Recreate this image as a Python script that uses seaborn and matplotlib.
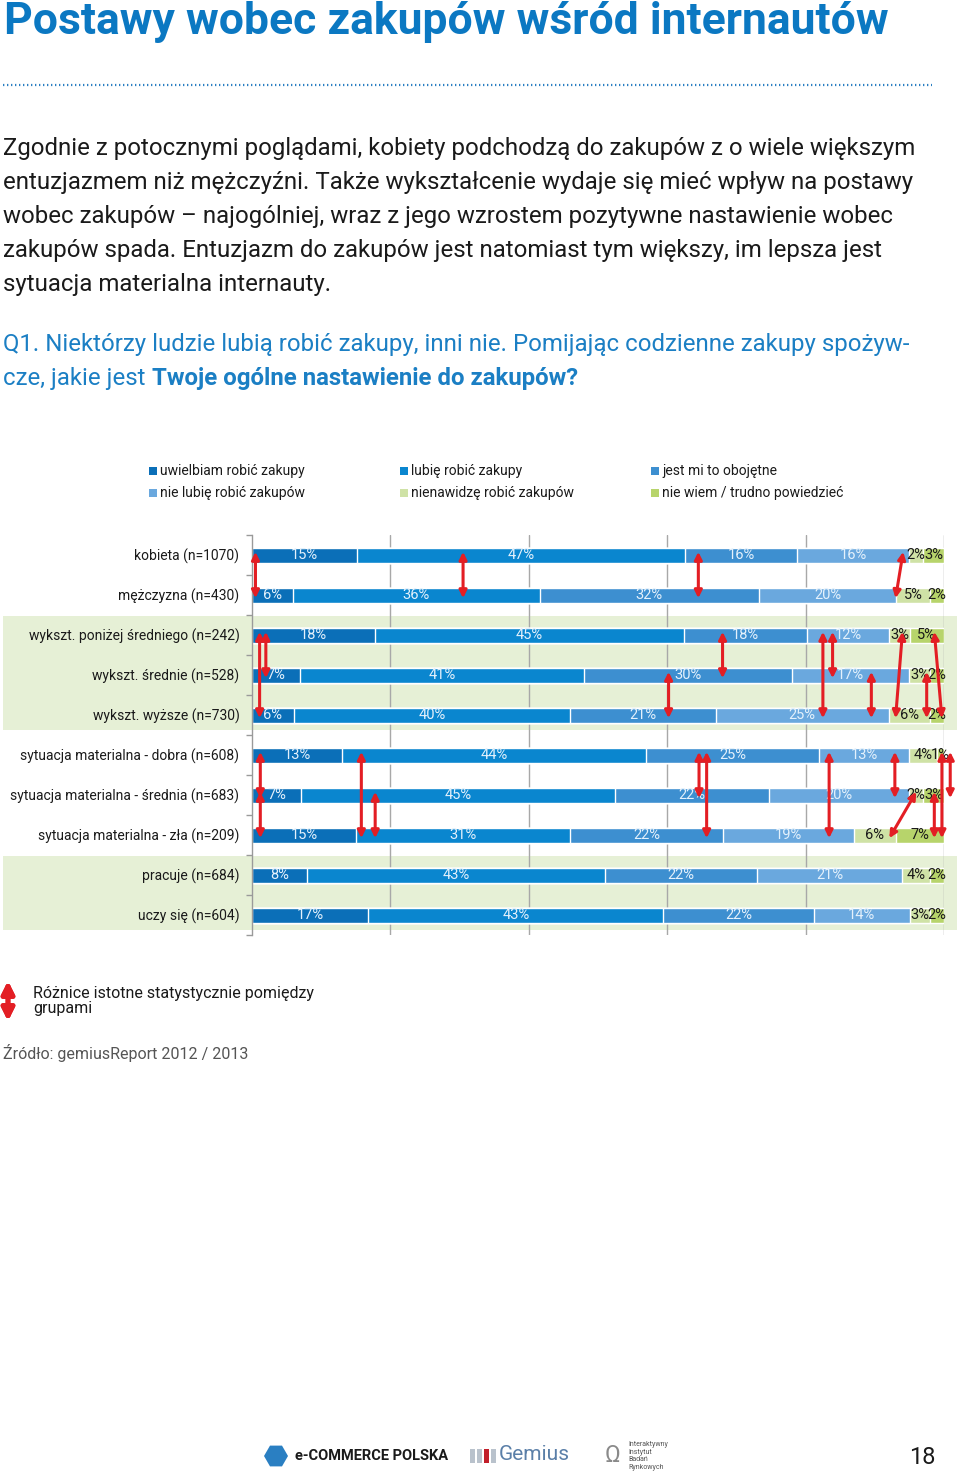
import numpy as np
import pandas as pd
import seaborn as sns
from matplotlib import pyplot as plt
from matplotlib.patches import Rectangle, RegularPolygon
from matplotlib.lines import Line2D
from matplotlib.transforms import blended_transform_factory

groups = [
    "kobieta (n=1070)",
    "mężczyzna (n=430)",
    "wykszt. poniżej średniego (n=242)",
    "wykszt. średnie (n=528)",
    "wykszt. wyższe (n=730)",
    "sytuacja materialna - dobra (n=608)",
    "sytuacja materialna - średnia (n=683)",
    "sytuacja materialna - zła (n=209)",
    "pracuje (n=684)",
    "uczy się (n=604)",
]
categories = [
    "uwielbiam robić zakupy",
    "lubię robić zakupy",
    "jest mi to obojętne",
    "nie lubię robić zakupów",
    "nienawidzę robić zakupów",
    "nie wiem / trudno powiedzieć",
]
uwielbiam = [15, 6, 18, 7, 6, 13, 7, 15, 8, 17]
lubie = [47, 36, 45, 41, 40, 44, 45, 31, 43, 43]
obojetne = [16, 32, 18, 30, 21, 25, 22, 22, 22, 22]
nie_lubie = [16, 20, 12, 17, 25, 13, 20, 19, 21, 14]
nienawidze = [2, 5, 3, 3, 6, 4, 2, 6, 4, 3]
nie_wiem = [3, 2, 5, 2, 2, 1, 3, 7, 2, 2]

# statistically significant differences: (row from, row to, position from, position to) in %
sig_arrows = [
    (0, 1, 0.5, 0.5), (0, 1, 30.5, 30.5), (0, 1, 64.5, 64.5), (0, 1, 94.1, 93.0),
    (2, 4, 1.1, 1.1), (2, 3, 2.0, 2.0), (2, 3, 68.0, 68.0), (2, 4, 82.5, 82.5),
    (2, 3, 83.9, 83.9), (2, 4, 94.0, 93.0), (2, 4, 98.6, 99.7), (3, 4, 60.2, 60.2),
    (3, 4, 89.5, 89.5), (3, 4, 97.5, 97.5), (5, 6, 1.2, 1.2), (6, 7, 1.2, 1.2),
    (5, 7, 15.8, 15.8), (6, 7, 17.8, 17.8), (5, 6, 64.6, 64.6), (5, 7, 65.7, 65.7),
    (5, 7, 83.4, 83.4), (5, 6, 92.9, 92.9), (5, 7, 99.7, 99.7), (5, 6, 100.9, 100.9),
    (6, 7, 96.0, 92.1), (6, 7, 98.6, 98.6),
]
shaded_rows = [(2, 4), (8, 9)]

colors = ["#0b6fb8", "#0a86cf", "#3d8fd0", "#6aa8de", "#cfe2a6", "#b7d46b"]
label_colors = ["#e4f1fc"] * 4 + ["#1a1a1a"] * 2
BLUE = "#0b78c2"
RED = "#e31e24"

W, H = 960, 1476


def fx(x):
    return x / W


def fy(y):
    return 1 - y / H


sns.set_theme(style="white")
plt.rcParams["font.family"] = ["Roboto", "DejaVu Sans"]

df = pd.DataFrame(
    {
        categories[0]: uwielbiam,
        categories[1]: lubie,
        categories[2]: obojetne,
        categories[3]: nie_lubie,
        categories[4]: nienawidze,
        categories[5]: nie_wiem,
    },
    index=groups,
)
shares = df.div(df.sum(axis=1), axis=0) * 100
cum = shares.cumsum(axis=1)

fig = plt.figure(figsize=(9.6, 14.76), dpi=100)
ax = fig.add_axes([fx(252), fy(935), fx(944 - 252), 400 / H])
ax.patch.set_alpha(0)

for i in reversed(range(len(categories))):
    sns.barplot(
        x=cum.iloc[:, i].values,
        y=groups,
        order=groups,
        orient="h",
        color=colors[i],
        saturation=1,
        width=0.375,
        edgecolor="white",
        linewidth=1,
        errorbar=None,
        ax=ax,
    )

ax.set_xlim(0, 100)
ax.set_ylim(9.5, -0.5)
ax.set_xlabel("")
ax.set_ylabel("")
ax.set_xticks([20, 40, 60, 80, 100])
ax.set_xticklabels([])
ax.grid(axis="x", color="#a8a8a8", linewidth=1)
ax.grid(axis="y", visible=False)
ax.set_axisbelow(True)
for side in ["top", "right", "bottom"]:
    ax.spines[side].set_visible(False)
ax.spines["left"].set_color("#9a9a9a")
ax.spines["left"].set_linewidth(1)
ax.tick_params(axis="x", length=0)
ax.tick_params(axis="y", which="major", length=0, pad=9, labelsize=10, labelcolor="#1a1a1a")
ax.set_yticks(np.arange(-0.5, len(groups), 1.0), minor=True)
ax.tick_params(axis="y", which="minor", length=4, color="#9a9a9a", width=1, direction="out", left=True)

# shaded bands behind group blocks
band_tr = blended_transform_factory(fig.transFigure, ax.transData)
for r0, r1 in shaded_rows:
    ax.add_patch(
        Rectangle((fx(3), r0 - 0.48), fx(957 - 3), r1 - r0 + 0.86,
                  transform=band_tr, facecolor="#e6f0d6", edgecolor="none",
                  zorder=0.1, clip_on=False)
    )

# segment labels
for r, g in enumerate(groups):
    left = 0
    for i, cat in enumerate(categories):
        w = shares.loc[g, cat]
        ax.text(left + w / 2, r, f"{df.loc[g, cat]}%", ha="center", va="center",
                fontsize=10.5, color=label_colors[i], zorder=5, clip_on=False)
        left += w

# significance arrows
for r0, r1, x0, x1 in sig_arrows:
    ax.annotate(
        "", xy=(x1, r1 + 0.08), xytext=(x0, r0 - 0.08),
        arrowprops=dict(arrowstyle="<|-|>", color=RED, lw=2.2, mutation_scale=11,
                        shrinkA=0, shrinkB=0),
        zorder=6, annotation_clip=False,
    )

# title and texts
fig.text(fx(4), fy(22), "Postawy wobec zakupów wśród internautów", fontsize=32,
         fontweight="bold", color=BLUE, va="center", ha="left")
fig.add_artist(Line2D([fx(3), fx(932)], [fy(85), fy(85)], color="#2a7fc2", lw=1.6,
                      linestyle=(0, (0.6, 1.2))))

paragraph = [
    "Zgodnie z potocznymi poglądami, kobiety podchodzą do zakupów z o wiele większym",
    "entuzjazmem niż mężczyźni. Także wykształcenie wydaje się mieć wpływ na postawy",
    "wobec zakupów – najogólniej, wraz z jego wzrostem pozytywne nastawienie wobec",
    "zakupów spada. Entuzjazm do zakupów jest natomiast tym większy, im lepsza jest",
    "sytuacja materialna internauty.",
]
for k, line in enumerate(paragraph):
    fig.text(fx(3), fy(149 + 34 * k), line, fontsize=17.3, color="#1a1a1a", va="center")

fig.text(fx(3), fy(345),
         "Q1. Niektórzy ludzie lubią robić zakupy, inni nie. Pomijając codzienne zakupy spożyw-",
         fontsize=17.3, color="#1b7fc4", va="center")
q_part = fig.text(fx(3), fy(379), "cze, jakie jest", fontsize=17.3, color="#1b7fc4", va="center")
renderer = fig.canvas.get_renderer()
bb = q_part.get_window_extent(renderer)
fig.text(fx(bb.x1 + 6), fy(379), "Twoje ogólne nastawienie do zakupów?", fontsize=17.3,
         fontweight="bold", color="#1b7fc4", va="center")

# legend
legend_pos = [(149, 471), (400, 471), (651, 471), (149, 493), (400, 493), (651, 493)]
for (lx, ly), cat, col in zip(legend_pos, categories, colors):
    fig.add_artist(Rectangle((fx(lx), fy(ly + 4)), fx(8), 8 / H, transform=fig.transFigure,
                             facecolor=col, edgecolor="none"))
    fig.text(fx(lx + 11), fy(ly), cat, fontsize=10, color="#1a1a1a", va="center")

# note on arrows
fig.add_artist(
    plt.annotate("", xy=(fx(8), fy(1021)), xytext=(fx(8), fy(981)), xycoords="figure fraction",
                 arrowprops=dict(arrowstyle="<|-|>", color=RED, lw=3.5, mutation_scale=18,
                                 shrinkA=0, shrinkB=0))
)
fig.text(fx(33), fy(1001), "Różnice istotne statystycznie pomiędzy\ngrupami", fontsize=11.5,
         color="#1a1a1a", va="center", linespacing=0.95)
fig.text(fx(3), fy(1053), "Źródło: gemiusReport 2012 / 2013", fontsize=11.5, color="#555555",
         va="center")

# footer
fig.add_artist(RegularPolygon((2.76, (H - 1456) / 100), 6, radius=0.12,
                              transform=fig.dpi_scale_trans, facecolor="#2a7fc2",
                              edgecolor="none", orientation=np.pi / 6))
fig.text(fx(295), fy(1456), "e-COMMERCE POLSKA", fontsize=10.5, fontweight="bold",
         color="#1a1a1a", va="center")
for k in range(4):
    fig.add_artist(Rectangle((fx(470 + 7 * k), fy(1463)), fx(5), 14 / H, transform=fig.transFigure,
                             facecolor="#c21f2a" if k == 2 else "#b9c2cc", edgecolor="none"))
fig.text(fx(499), fy(1455), "Gemius", fontsize=15, color="#5a7fa8", va="center")
fig.text(fx(612), fy(1456), "Ω", fontsize=17, color="#8a8a8a", va="center", ha="center")
fig.text(fx(628), fy(1456), "Interaktywny\nInstytut\nBadań\nRynkowych", fontsize=5,
         color="#555555", va="center", linespacing=1.1)
fig.text(fx(922), fy(1458), "18", fontsize=17, color="#1a1a1a", va="center", ha="center")

fig.savefig("out.png", dpi=100)
